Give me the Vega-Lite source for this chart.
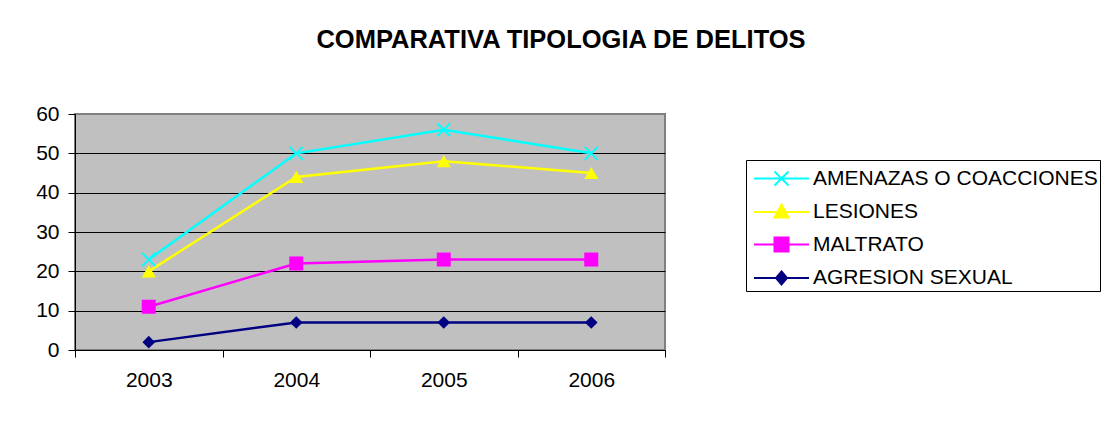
{
  "$schema": "https://vega.github.io/schema/vega-lite/v6.json",
  "autosize": {"type": "none"},
  "padding": {"left": 75, "top": 114, "right": 436, "bottom": 80},
  "width": 590,
  "height": 236,
  "background": "white",
  "title": {
    "text": "COMPARATIVA TIPOLOGIA DE DELITOS",
    "font": "Liberation Sans",
    "fontSize": 25.5,
    "fontWeight": "bold",
    "color": "black",
    "anchor": "middle",
    "dx": 191,
    "offset": 50
  },
  "config": {
    "view": {"fill": "#C0C0C0", "stroke": "#808080", "strokeWidth": 2},
    "axis": {"labelFont": "Liberation Sans", "labelColor": "black", "domainColor": "black", "tickColor": "black", "tickSize": 7, "domainWidth": 1, "tickWidth": 1}
  },
  "data": {
    "values": [
      {"year": "2003", "series": "AMENAZAS O COACCIONES", "value": 23},
      {"year": "2004", "series": "AMENAZAS O COACCIONES", "value": 50},
      {"year": "2005", "series": "AMENAZAS O COACCIONES", "value": 56},
      {"year": "2006", "series": "AMENAZAS O COACCIONES", "value": 50},
      {"year": "2003", "series": "LESIONES", "value": 20},
      {"year": "2004", "series": "LESIONES", "value": 44},
      {"year": "2005", "series": "LESIONES", "value": 48},
      {"year": "2006", "series": "LESIONES", "value": 45},
      {"year": "2003", "series": "MALTRATO", "value": 11},
      {"year": "2004", "series": "MALTRATO", "value": 22},
      {"year": "2005", "series": "MALTRATO", "value": 23},
      {"year": "2006", "series": "MALTRATO", "value": 23},
      {"year": "2003", "series": "AGRESION SEXUAL", "value": 2},
      {"year": "2004", "series": "AGRESION SEXUAL", "value": 7},
      {"year": "2005", "series": "AGRESION SEXUAL", "value": 7},
      {"year": "2006", "series": "AGRESION SEXUAL", "value": 7}
    ]
  },
  "encoding": {
    "x": {
      "field": "year",
      "type": "ordinal",
      "bandPosition": 0.5,
      "scale": {"type": "band", "paddingInner": 0, "paddingOuter": 0},
      "axis": {"title": null, "labelAngle": 0, "labelFontSize": 21, "labelPadding": 12, "tickBand": "extent", "grid": false}
    },
    "y": {
      "field": "value",
      "type": "quantitative",
      "scale": {"domain": [0, 60], "nice": false},
      "axis": {
        "title": null,
        "values": [0, 10, 20, 30, 40, 50, 60],
        "labelFontSize": 21,
        "labelPadding": 9,
        "grid": true,
        "gridColor": {"condition": {"test": "datum.value === 60", "value": "#808080"}, "value": "black"},
        "gridWidth": 1
      }
    }
  },
  "layer": [
    {
      "mark": {"type": "line", "strokeWidth": 2.5},
      "encoding": {
        "color": {
          "field": "series",
          "type": "nominal",
          "scale": {
            "domain": ["AMENAZAS O COACCIONES", "LESIONES", "MALTRATO", "AGRESION SEXUAL"],
            "range": ["#00FFFF", "#FFFF00", "#FF00FF", "#000080"]
          },
          "legend": {
            "title": null,
            "orient": "none",
            "legendX": 671,
            "legendY": 46,
            "padding": 2,
            "strokeColor": "black",
            "fillColor": "white",
            "symbolSize": 961,
            "symbolStrokeWidth": 2,
            "labelOffset": 32,
            "rowPadding": 5.5,
            "labelFont": "Liberation Sans",
            "labelFontSize": 21,
            "labelColor": "black",
            "labelLimit": 400,
            "encode": {
              "symbols": {
                "update": {
                  "shape": {"signal": "datum.value === 'AMENAZAS O COACCIONES' ? 'M-0.677,0L2.871,0M0.645,-0.452L1.549,0.452M0.645,0.452L1.549,-0.452' : datum.value === 'LESIONES' ? 'M-0.677,0L2.871,0M1.097,-0.48L1.549,0.35L0.645,0.35Z' : datum.value === 'MALTRATO' ? 'M-0.677,0L2.871,0M0.645,-0.452L1.549,-0.452L1.549,0.452L0.645,0.452Z' : 'M-0.677,0L2.871,0M1.097,-0.42L1.452,0L1.097,0.42L0.742,0Z'"},
                  "fill": {"scale": "color", "field": "value"},
                  "stroke": {"scale": "color", "field": "value"},
                  "strokeWidth": {"value": 2},
                  "fillOpacity": {"value": 1},
                  "opacity": {"value": 1}
                }
              }
            }
          }
        }
      }
    },
    {
      "transform": [{"filter": "datum.series === 'AMENAZAS O COACCIONES'"}],
      "mark": {"type": "point", "shape": "M-1,-1L1,1M-1,1L1,-1", "filled": false, "stroke": "#00FFFF", "strokeWidth": 2, "size": 169, "opacity": 1}
    },
    {
      "transform": [{"filter": "datum.series === 'LESIONES'"}],
      "mark": {"type": "point", "shape": "triangle-up", "filled": true, "fill": "#FFFF00", "size": 200, "opacity": 1}
    },
    {
      "transform": [{"filter": "datum.series === 'MALTRATO'"}],
      "mark": {"type": "point", "shape": "square", "filled": true, "fill": "#FF00FF", "size": 196, "opacity": 1}
    },
    {
      "transform": [{"filter": "datum.series === 'AGRESION SEXUAL'"}],
      "mark": {"type": "point", "shape": "diamond", "filled": true, "fill": "#000080", "size": 160, "opacity": 1}
    }
  ]
}
